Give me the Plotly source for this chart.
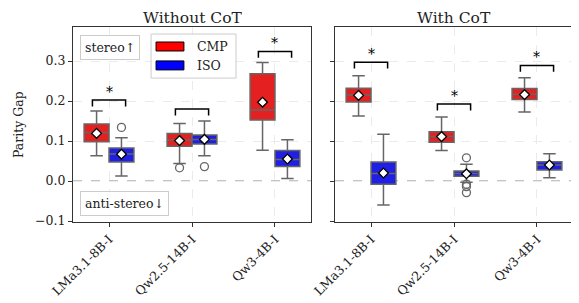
import plotly.graph_objects as go

# ---------------- data ----------------
categories = ["LMa3.1-8B-I", "Qw2.5-14B-I", "Qw3-4B-I"]
panel_titles = ["Without CoT", "With CoT"]
series_names = ["CMP", "ISO"]

# Without CoT
nocot_cmp_low = [0.063, 0.044, 0.077]
nocot_cmp_q1 = [0.098, 0.087, 0.1525]
nocot_cmp_med = [0.121, 0.1025, 0.1775]
nocot_cmp_q3 = [0.1425, 0.119, 0.268]
nocot_cmp_high = [0.175, 0.144, 0.296]
nocot_cmp_mean = [0.119, 0.101, 0.197]
nocot_cmp_out = [[], [0.033], []]

nocot_iso_low = [0.0125, 0.063, 0.006]
nocot_iso_q1 = [0.0475, 0.0925, 0.036]
nocot_iso_med = [0.0675, 0.104, 0.054]
nocot_iso_q3 = [0.0825, 0.115, 0.076]
nocot_iso_high = [0.108, 0.150, 0.103]
nocot_iso_mean = [0.067, 0.104, 0.055]
nocot_iso_out = [[0.134], [0.036], []]

# With CoT
cot_cmp_low = [0.1625, 0.076, 0.1725]
cot_cmp_q1 = [0.1975, 0.097, 0.204]
cot_cmp_med = [0.215, 0.111, 0.217]
cot_cmp_q3 = [0.232, 0.123, 0.231]
cot_cmp_high = [0.263, 0.160, 0.258]
cot_cmp_mean = [0.214, 0.111, 0.216]
cot_cmp_out = [[], [], []]

cot_iso_low = [-0.060, -0.003, 0.008]
cot_iso_q1 = [-0.008, 0.012, 0.0275]
cot_iso_med = [0.019, 0.019, 0.040]
cot_iso_q3 = [0.0475, 0.025, 0.048]
cot_iso_high = [0.117, 0.042, 0.068]
cot_iso_mean = [0.020, 0.018, 0.040]
cot_iso_out = [[], [0.058, -0.008, -0.014, -0.029], []]

# significance brackets (height of bracket top, significant?)
nocot_bracket = [0.2025, 0.180, 0.324]
nocot_sig = [True, False, True]
cot_bracket = [0.297, 0.1925, 0.289]
cot_sig = [True, True, True]

y_ticks = [-0.1, 0.0, 0.1, 0.2, 0.3]

# ---------------- style / layout ----------------
FONT = "DejaVu Serif"
RED = "rgb(228,32,32)"
BLUE = "rgb(32,32,228)"
EDGE = "#666666"
OFFSET = 0.15
BOX_W = 0.3
BR_HALF = 0.2
BR_LEG = 0.016

PAGE_MARGIN = 8  # browser default body margin
W, H = 579 - PAGE_MARGIN, 303 - PAGE_MARGIN


def fx(px):
    return (px - PAGE_MARGIN) / W


def fy(py):
    return 1 - (py - PAGE_MARGIN) / H


panels = [
    dict(cmp=(nocot_cmp_low, nocot_cmp_q1, nocot_cmp_med, nocot_cmp_q3, nocot_cmp_high, nocot_cmp_mean, nocot_cmp_out),
         iso=(nocot_iso_low, nocot_iso_q1, nocot_iso_med, nocot_iso_q3, nocot_iso_high, nocot_iso_mean, nocot_iso_out),
         br=nocot_bracket, sig=nocot_sig, xa="x", ya="y"),
    dict(cmp=(cot_cmp_low, cot_cmp_q1, cot_cmp_med, cot_cmp_q3, cot_cmp_high, cot_cmp_mean, cot_cmp_out),
         iso=(cot_iso_low, cot_iso_q1, cot_iso_med, cot_iso_q3, cot_iso_high, cot_iso_mean, cot_iso_out),
         br=cot_bracket, sig=cot_sig, xa="x2", ya="y2"),
]

fig = go.Figure()
idx = list(range(len(categories)))
annotations = []
shapes = []

for p in panels:
    for key, sign, color in (("cmp", -1, RED), ("iso", 1, BLUE)):
        low, q1, med, q3, high, mean, outs = p[key]
        xs = [i + sign * OFFSET for i in idx]
        fig.add_trace(go.Box(
            x=xs, lowerfence=low, q1=q1, median=med, q3=q3, upperfence=high,
            width=BOX_W, whiskerwidth=0.5, fillcolor=color,
            line=dict(color=EDGE, width=1.5), boxpoints=False,
            xaxis=p["xa"], yaxis=p["ya"], showlegend=False, hoverinfo="skip"))
        ox, oy = [], []
        for i, vals in zip(idx, outs):
            for v in vals:
                ox.append(i + sign * OFFSET)
                oy.append(v)
        if ox:
            fig.add_trace(go.Scatter(
                x=ox, y=oy, mode="markers",
                marker=dict(symbol="circle-open", size=8, color=EDGE, line=dict(width=1.3)),
                xaxis=p["xa"], yaxis=p["ya"], showlegend=False, hoverinfo="skip"))
        fig.add_trace(go.Scatter(
            x=xs, y=mean, mode="markers",
            marker=dict(symbol="diamond", size=7.5, color="white", line=dict(color="black", width=1.3)),
            xaxis=p["xa"], yaxis=p["ya"], showlegend=False, hoverinfo="skip"))
    # brackets
    bx, by = [], []
    for i, top in zip(idx, p["br"]):
        bx += [i - BR_HALF, i - BR_HALF, i + BR_HALF, i + BR_HALF, None]
        by += [top - BR_LEG, top, top, top - BR_LEG, None]
    fig.add_trace(go.Scatter(x=bx, y=by, mode="lines", line=dict(color="black", width=1.5),
                             xaxis=p["xa"], yaxis=p["ya"], showlegend=False, hoverinfo="skip"))
    for i, top, s in zip(idx, p["br"], p["sig"]):
        if s:
            annotations.append(dict(x=i, y=top, xref=p["xa"], yref=p["ya"], text="*",
                                    showarrow=False, yanchor="bottom", yshift=-2,
                                    font=dict(family=FONT, size=14, color="black")))
    # zero line
    shapes.append(dict(type="line", xref=f"{p['xa']} domain", yref=p["ya"], x0=0, x1=1, y0=0, y1=0,
                       line=dict(color="#888888", width=1, dash="dash"), layer="below"))

# panel titles
for t, xa in zip(panel_titles, ["x", "x2"]):
    annotations.append(dict(text=t, xref=f"{xa} domain", yref="paper", x=0.5, y=fy(27),
                            yanchor="bottom", yshift=-1, showarrow=False, borderpad=0,
                            font=dict(family=FONT, size=15.5, color="#222")))

# y-axis title
annotations.append(dict(text="Parity Gap", xref="paper", yref="paper", x=fx(18.5), y=fy(124.5),
                        textangle=-90, showarrow=False, xanchor="center", yanchor="middle",
                        font=dict(family=FONT, size=12.5, color="#222")))

# stereo / anti-stereo labels
annotations.append(dict(text="stereo↑", xref="x domain", yref="y domain", x=0.029, y=0.959,
                        xanchor="left", yanchor="top", showarrow=False, borderpad=4,
                        bordercolor="#cccccc", borderwidth=1, bgcolor="rgba(255,255,255,0.85)",
                        font=dict(family=FONT, size=12.5, color="#222")))
annotations.append(dict(text="anti-stereo↓", xref="x domain", yref="y domain", x=0.029, y=0.031,
                        xanchor="left", yanchor="bottom", showarrow=False, borderpad=4,
                        bordercolor="#cccccc", borderwidth=1, bgcolor="rgba(255,255,255,0.85)",
                        font=dict(family=FONT, size=12.5, color="#222")))

# custom legend
shapes.append(dict(type="rect", xref="x domain", yref="y domain", x0=0.328, x1=0.685, y0=0.738, y1=0.964,
                   line=dict(color="#cccccc", width=1), fillcolor="rgba(255,255,255,0.85)", layer="above"))
for name, col, yc in ((series_names[0], "red", 0.90), (series_names[1], "blue", 0.803)):
    shapes.append(dict(type="rect", xref="x domain", yref="y domain", x0=0.349, x1=0.466,
                       y0=yc - 0.023, y1=yc + 0.023, line=dict(color="black", width=1),
                       fillcolor=col, layer="above"))
    annotations.append(dict(text=name, xref="x domain", yref="y domain", x=0.513, y=yc,
                            xanchor="left", yanchor="middle", showarrow=False,
                            font=dict(family=FONT, size=12.5, color="#222")))

axis_common = dict(showline=True, linecolor="#333333", linewidth=1.2, mirror=True,
                   ticks="outside", ticklen=4, tickcolor="#333333", zeroline=False,
                   showgrid=True, gridcolor="#ebebeb", griddash="dash", gridwidth=1,
                   automargin=False,
                   tickfont=dict(family=FONT, size=12.5, color="#222"))

xr = [-0.434, 2.434]
yr = [-0.1025, 0.385]
fig.update_layout(
    width=W, height=H, margin=dict(l=0, r=0, t=0, b=0, autoexpand=False),
    plot_bgcolor="white", paper_bgcolor="white",
    xaxis=dict(domain=[fx(73), fx(311)], range=xr, tickvals=idx, ticktext=categories,
               tickangle=-45, anchor="y", **axis_common),
    xaxis2=dict(domain=[fx(335), fx(573)], range=xr, tickvals=idx, ticktext=categories,
                tickangle=-45, anchor="y2", **axis_common),
    yaxis=dict(domain=[fy(222), fy(27)], range=yr, tickvals=y_ticks,
               tickformat=".1f", anchor="x", **axis_common),
    yaxis2=dict(domain=[fy(222), fy(27)], range=yr, tickvals=y_ticks,
                showticklabels=False, anchor="x2", matches="y", **axis_common),
    annotations=annotations, shapes=shapes, showlegend=False,
)

fig.write_html("out.html")
